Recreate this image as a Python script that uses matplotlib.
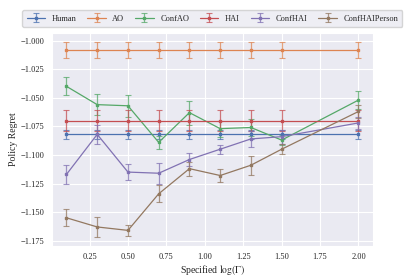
import numpy as np
import matplotlib
matplotlib.use("Agg")
import matplotlib.pyplot as plt
import seaborn as sns

# data
log_gamma = [0.1, 0.3, 0.5, 0.7, 0.9, 1.1, 1.3, 1.5, 2.0]

human = [-1.082] * 9
human_err = [0.004] * 9
ao = [-1.008] * 9
ao_err = [0.007] * 9
hai = [-1.070] * 9
hai_err = [0.009] * 9
conf_ao = [-1.040, -1.056, -1.057, -1.089, -1.063, -1.077, -1.076, -1.087, -1.052]
conf_ao_err = [0.008, 0.0095, 0.0095, 0.006, 0.0105, 0.007, 0.0075, 0.0045, 0.008]
conf_hai = [-1.117, -1.082, -1.115, -1.116, -1.104, -1.095, -1.086, -1.084, -1.072]
conf_hai_err = [0.008, 0.008, 0.007, 0.009, 0.006, 0.004, 0.007, 0.006, 0.005]
conf_hai_person = [-1.155, -1.163, -1.166, -1.134, -1.112, -1.118, -1.109, -1.095, -1.062]
conf_hai_person_err = [0.0076, 0.009, 0.005, 0.0076, 0.006, 0.006, 0.0085, 0.0045, 0.006]

names = ["Human", "AO", "ConfAO", "HAI", "ConfHAI", "ConfHAIPerson"]
series = [human, ao, conf_ao, hai, conf_hai, conf_hai_person]
errors = [human_err, ao_err, conf_ao_err, hai_err, conf_hai_err, conf_hai_person_err]

sns.set_style("darkgrid")
plt.rcParams["font.family"] = ["Liberation Serif", "DejaVu Serif"]
plt.rcParams["mathtext.fontset"] = "stix"

fig, ax = plt.subplots(figsize=(4.15, 2.77), dpi=100)
fig.subplots_adjust(left=0.125, right=0.899, bottom=0.113, top=0.881)

colors = sns.color_palette("deep")
for i, (name, y, e) in enumerate(zip(names, series, errors)):
    eb = ax.errorbar(log_gamma, y, yerr=e, label=name, color=colors[i],
                     marker="s", markersize=1.6, linewidth=0.9,
                     elinewidth=0.9, capsize=2.2, capthick=0.8)
    # error bars look a bit faded in the original
    for c in eb[1]:
        c.set_alpha(0.75)
    for c in eb[2]:
        c.set_alpha(0.75)

ax.set_ylim(-1.1794, -0.9933)
ax.set_yticks([-1.000, -1.025, -1.050, -1.075, -1.100, -1.125, -1.150, -1.175])
ax.set_xticks([0.25, 0.5, 0.75, 1.0, 1.25, 1.5, 1.75, 2.0])
ax.tick_params(labelsize=6, pad=2)
ax.set_xlabel(r"Specified $\log(\Gamma)$", fontsize=7, labelpad=1)
ax.set_ylabel("Policy Regret", fontsize=7, labelpad=2)

ax.legend(loc="lower center", bbox_to_anchor=(0.5, 1.01), ncol=6,
          fontsize=6, frameon=True, handlelength=2.2, columnspacing=1.3,
          borderpad=0.5, handletextpad=0.8)

fig.savefig("out.png", dpi=100)
